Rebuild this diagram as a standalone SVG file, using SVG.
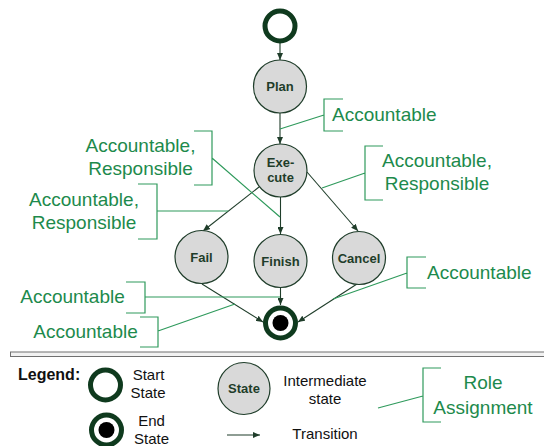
<svg xmlns="http://www.w3.org/2000/svg" width="544" height="446" viewBox="0 0 544 446">
<defs>
<style>
.state{fill:#d9d9d9;stroke:#1f3d2a;stroke-width:1.2}
.ring{fill:#ffffff;stroke:#0f3a1e;stroke-width:5}
.dot{fill:#000000}
.lbl{font-family:"Liberation Sans",Arial,sans-serif;font-weight:bold;font-size:13px;fill:#1f3d2a;text-anchor:middle}
.edge{fill:none;stroke:#1f3d2a;stroke-width:1.1}
.role{fill:none;stroke:#2f9a5c;stroke-width:1.2}
.rtxt{font-family:"Liberation Sans",Arial,sans-serif;font-size:19px;fill:#1d8a4c}
.ltxt{font-family:"Liberation Sans",Arial,sans-serif;font-size:15px;fill:#111111;text-anchor:middle}
</style>
<marker id="arr" markerWidth="8" markerHeight="6" refX="7" refY="3" orient="auto" markerUnits="userSpaceOnUse">
<path d="M0,0 L7,3 L0,6 Z" fill="#1f3d2a"/>
</marker>
</defs>
<rect width="544" height="446" fill="#ffffff"/>

<g id="connectors">
<line class="edge" x1="280" y1="41" x2="280" y2="60" marker-end="url(#arr)"/>
<line class="edge" x1="280" y1="113" x2="280" y2="144" marker-end="url(#arr)"/>
<line class="edge" x1="259" y1="187" x2="203" y2="231" marker-end="url(#arr)"/>
<line class="edge" x1="280.5" y1="197" x2="280.5" y2="234" marker-end="url(#arr)"/>
<line class="edge" x1="307" y1="172" x2="358" y2="231" marker-end="url(#arr)"/>
<line class="edge" x1="202" y1="284" x2="263" y2="322" marker-end="url(#arr)"/>
<line class="edge" x1="280.5" y1="288" x2="280.5" y2="305" marker-end="url(#arr)"/>
<line class="edge" x1="357" y1="284" x2="298" y2="322" marker-end="url(#arr)"/>
</g>

<g id="start">
<circle class="ring" cx="280" cy="26" r="15"/>
</g>
<g id="plan">
<circle class="state" cx="280" cy="86.5" r="26.5"/>
<text class="lbl" x="280" y="91">Plan</text>
</g>
<g id="execute">
<circle class="state" cx="280.5" cy="170.5" r="26.5"/>
<text class="lbl" x="280.5" y="166.5">Exe-</text>
<text class="lbl" x="280.5" y="182">cute</text>
</g>
<g id="fail">
<circle class="state" cx="201.5" cy="257" r="26.5"/>
<text class="lbl" x="201.5" y="261.5">Fail</text>
</g>
<g id="finish">
<circle class="state" cx="280.5" cy="261" r="26.5"/>
<text class="lbl" x="280.5" y="265.5">Finish</text>
</g>
<g id="cancel">
<circle class="state" cx="359" cy="258" r="26.5"/>
<text class="lbl" x="359" y="262.5">Cancel</text>
</g>
<g id="end">
<circle class="ring" cx="280.5" cy="323" r="15"/>
<circle class="dot" cx="280.5" cy="323" r="8"/>
</g>

<g id="roles">
<path class="role" d="M343,99 H324 V131 H343 M324,115 L280,129"/>
<text class="rtxt" x="332" y="121">Accountable</text>

<path class="role" d="M194,131 H212 V185 H194 M212,158 L280,217"/>
<text class="rtxt" x="140.5" y="152" text-anchor="middle">Accountable,</text>
<text class="rtxt" x="140.5" y="175" text-anchor="middle">Responsible</text>

<path class="role" d="M138,184 H157 V239 H138 M157,211 L228,211"/>
<text class="rtxt" x="84" y="206" text-anchor="middle">Accountable,</text>
<text class="rtxt" x="84" y="228.5" text-anchor="middle">Responsible</text>

<path class="role" d="M383,146 H365 V200 H383 M365,173 L322,188"/>
<text class="rtxt" x="437" y="167" text-anchor="middle">Accountable,</text>
<text class="rtxt" x="437" y="190" text-anchor="middle">Responsible</text>

<path class="role" d="M126,282 H145 V313 H126 M145,297 L280,297"/>
<text class="rtxt" x="72.5" y="303" text-anchor="middle">Accountable</text>

<path class="role" d="M140,317 H158 V347 H140 M158,331 L235,304"/>
<text class="rtxt" x="85.5" y="337.5" text-anchor="middle">Accountable</text>

<path class="role" d="M426,257 H407 V288 H426 M407,273 L333,299"/>
<text class="rtxt" x="427" y="279">Accountable</text>
</g>

<g id="divider">
<rect x="10.5" y="352" width="540" height="4.5" fill="#f2f2f2" stroke="#707070" stroke-width="1"/>
</g>

<g id="legend">
<text x="18" y="380" font-family="'Liberation Sans',Arial,sans-serif" font-weight="bold" font-size="16" fill="#111111">Legend:</text>
<circle class="ring" cx="105.5" cy="385" r="15"/>
<text class="ltxt" x="148.5" y="380">Start</text>
<text class="ltxt" x="148" y="397.5">State</text>
<circle class="ring" cx="106.5" cy="430" r="15"/>
<circle class="dot" cx="106.5" cy="430" r="8"/>
<text class="ltxt" x="151.5" y="426">End</text>
<text class="ltxt" x="151.5" y="444">State</text>
<circle class="state" cx="244" cy="388.5" r="26"/>
<text class="lbl" x="244" y="393" font-size="12.5px">State</text>
<text class="ltxt" x="325" y="386">Intermediate</text>
<text class="ltxt" x="325" y="403.5">state</text>
<line class="edge" x1="227" y1="435" x2="260" y2="435" marker-end="url(#arr)"/>
<text class="ltxt" x="325" y="438.5">Transition</text>
<path class="role" d="M441,368 H423 V422 H441 M423,396 L378,408"/>
<text class="rtxt" x="483" y="389" text-anchor="middle">Role</text>
<text class="rtxt" x="483" y="414" text-anchor="middle">Assignment</text>
</g>
</svg>
